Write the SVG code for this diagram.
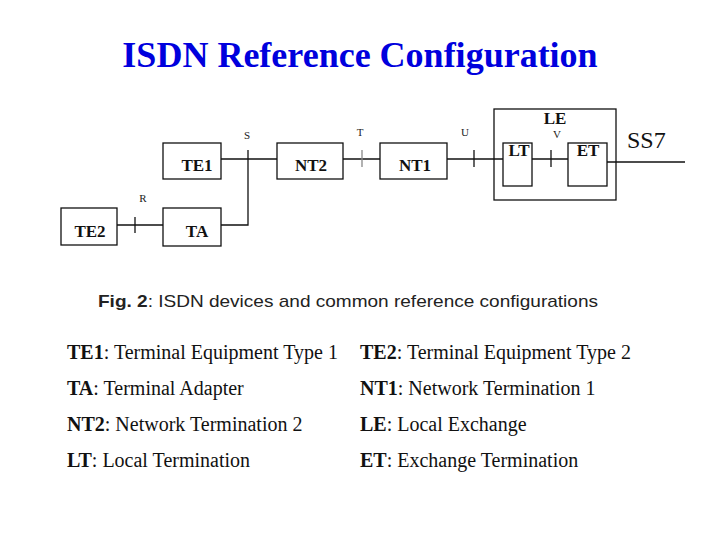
<svg xmlns="http://www.w3.org/2000/svg" width="720" height="540" viewBox="0 0 720 540">
<style>
.box{fill:none;stroke:#111;stroke-width:1.3}
.ln{fill:none;stroke:#111;stroke-width:1.3}
.nl{font-family:"Liberation Serif",serif;font-weight:bold;font-size:17px;fill:#111}
.rp{font-family:"Liberation Serif",serif;font-size:11px;fill:#222}
.lg{font-family:"Liberation Serif",serif;font-size:20px;fill:#111}
.lg tspan.b{font-weight:bold}
</style>
<rect width="720" height="540" fill="#fff"/>
<text x="360" y="67" text-anchor="middle" font-family="Liberation Serif, serif" font-weight="bold" font-size="36" fill="#0000DD">ISDN Reference Configuration</text>

<g id="connectors">
<line class="ln" x1="221" y1="159" x2="277" y2="159"/>
<polyline class="ln" points="248,150 248,225 221,225"/>
<line class="ln" x1="117" y1="225" x2="163" y2="225"/>
<line class="ln" x1="135" y1="217" x2="135" y2="233"/>
<line class="ln" x1="343" y1="159" x2="380" y2="159"/>
<line x1="362" y1="150" x2="362" y2="167" stroke="#888" stroke-width="1.3"/>
<line class="ln" x1="447" y1="159" x2="503" y2="159"/>
<line class="ln" x1="474" y1="150" x2="474" y2="167"/>
<line class="ln" x1="532" y1="159" x2="568" y2="159"/>
<line class="ln" x1="551" y1="150" x2="551" y2="167"/>
<line class="ln" x1="607" y1="162" x2="685" y2="162"/>
<text class="rp" x="247" y="139" text-anchor="middle">S</text>
<text class="rp" x="360" y="136" text-anchor="middle">T</text>
<text class="rp" x="465" y="136" text-anchor="middle">U</text>
<text class="rp" x="557" y="138" text-anchor="middle" font-size="10">V</text>
<text class="rp" x="143" y="202" text-anchor="middle">R</text>
<text x="627" y="148" font-family="Liberation Serif, serif" font-size="24" fill="#111">SS7</text>
</g>

<g id="TE1"><rect class="box" x="163" y="143" width="58" height="36"/><text class="nl" x="197" y="171" text-anchor="middle">TE1</text></g>
<g id="NT2"><rect class="box" x="277" y="143" width="66" height="36"/><text class="nl" x="311" y="171" text-anchor="middle">NT2</text></g>
<g id="NT1"><rect class="box" x="380" y="143" width="67" height="36"/><text class="nl" x="415" y="171" text-anchor="middle">NT1</text></g>
<g id="TE2"><rect class="box" x="61" y="208" width="56" height="37"/><text class="nl" x="90" y="237" text-anchor="middle">TE2</text></g>
<g id="TA"><rect class="box" x="163" y="208" width="58" height="38"/><text class="nl" x="197" y="237" text-anchor="middle">TA</text></g>
<g id="LE"><rect class="box" x="494" y="109" width="122" height="91"/><text class="nl" x="555" y="124" text-anchor="middle" font-size="16">LE</text></g>
<g id="LT"><rect class="box" x="503" y="143" width="29" height="43"/><text class="nl" x="519" y="156" text-anchor="middle" font-size="14">LT</text></g>
<g id="ET"><rect class="box" x="568" y="143" width="39" height="43"/><text class="nl" x="588" y="156" text-anchor="middle" font-size="14">ET</text></g>

<text x="98" y="307" font-family="Liberation Sans, sans-serif" font-size="17" fill="#222" textLength="500" lengthAdjust="spacingAndGlyphs"><tspan font-weight="bold">Fig. 2</tspan>: ISDN devices and common reference configurations</text>

<g id="legend">
<text class="lg" x="67" y="359"><tspan class="b">TE1</tspan>: Terminal Equipment Type 1</text>
<text class="lg" x="360" y="359"><tspan class="b">TE2</tspan>: Terminal Equipment Type 2</text>
<text class="lg" x="67" y="395"><tspan class="b">TA</tspan>: Terminal Adapter</text>
<text class="lg" x="360" y="395"><tspan class="b">NT1</tspan>: Network Termination 1</text>
<text class="lg" x="67" y="431"><tspan class="b">NT2</tspan>: Network Termination 2</text>
<text class="lg" x="360" y="431"><tspan class="b">LE</tspan>: Local Exchange</text>
<text class="lg" x="67" y="467"><tspan class="b">LT</tspan>: Local Termination</text>
<text class="lg" x="360" y="467"><tspan class="b">ET</tspan>: Exchange Termination</text>
</g>
</svg>
